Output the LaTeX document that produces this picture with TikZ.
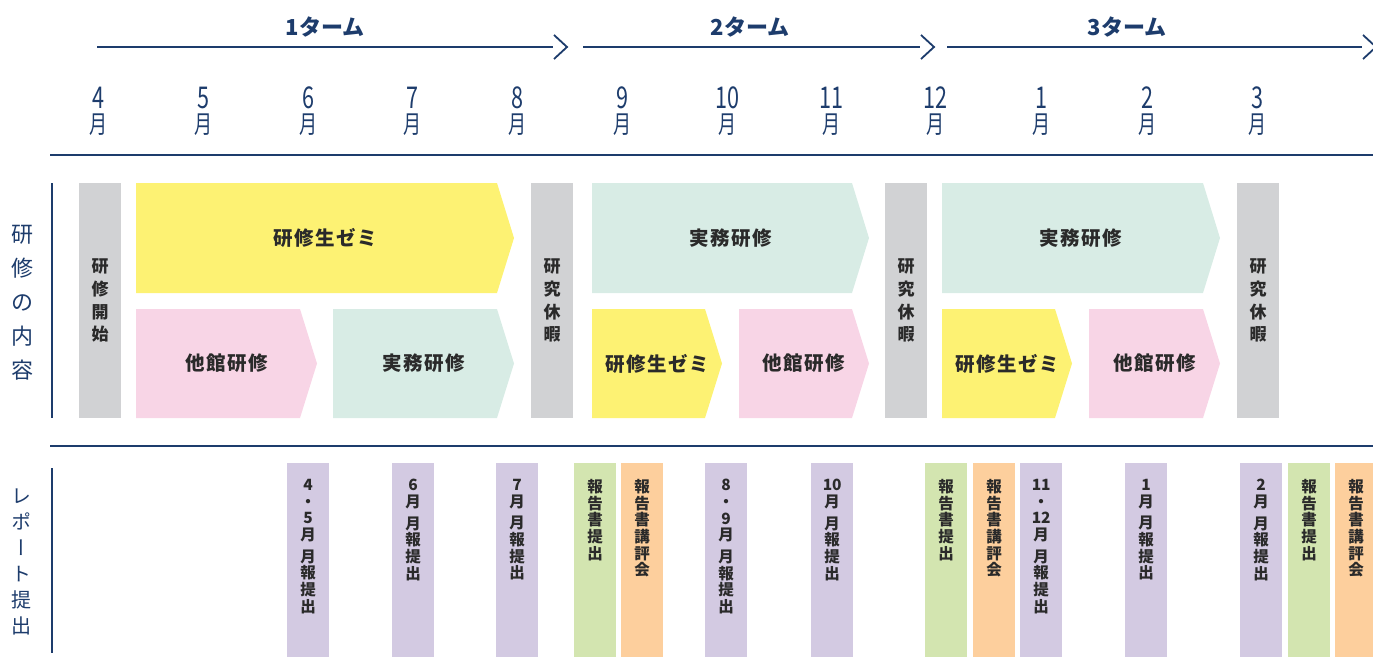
\documentclass[tikz,border=0pt]{standalone}
\usepackage{fontspec}
\setmainfont{Noto Sans CJK JP}
\newfontfamily\monthfont{Noto Sans CJK JP}[FakeStretch=0.72]
\newfontfamily\stagefont{Noto Sans CJK JP}[LetterSpace=8]
\newfontfamily\vertfont{Noto Sans CJK JP}[RawFeature=+vert]
\usetikzlibrary{positioning}
\definecolor{navy}{HTML}{1D3C6C}
\definecolor{ink}{HTML}{2A2A2A}
\definecolor{colRest}{HTML}{D1D2D4}
\definecolor{colZemi}{HTML}{FDF273}
\definecolor{colMint}{HTML}{D8ECE5}
\definecolor{colPink}{HTML}{F8D5E6}
\definecolor{colPurple}{HTML}{D3CAE2}
\definecolor{colGreen}{HTML}{D3E5B0}
\definecolor{colOrange}{HTML}{FDCF9D}
\newcommand{\num}[1]{{\fontsize{30}{24}\selectfont #1}}
\tikzstyle{rule} = [draw=navy, line width=2pt]
\tikzstyle{chevron} = [draw=navy, line width=1.8pt]
\tikzstyle{term} = [text=navy, font=\fontsize{22}{24}\selectfont\bfseries]
\tikzstyle{month} = [text=navy, align=center, inner sep=0pt, font=\monthfont\fontsize{25}{25}\selectfont]
\tikzstyle{side} = [text=navy, align=center, inner sep=0pt]
\tikzstyle{rest} = [fill=colRest, minimum width=42pt, minimum height=235pt, inner sep=0pt, anchor=north west, align=center, text=ink, font=\fontsize{17}{22.7}\selectfont\bfseries]
\tikzstyle{stagetext} = [text=ink, font=\stagefont\fontsize{19.5}{22}\selectfont\bfseries]
\tikzstyle{report} = [minimum width=42pt, minimum height=194pt, inner sep=0pt, anchor=north west]
\tikzstyle{rtext} = [text=ink, align=center, inner sep=0pt, font=\fontsize{15.5}{16.7}\selectfont\bfseries]
% name, colour, left, body right, top, bottom, text
\newcommand{\phasebox}[7]{%
  \fill [#2] (#3,#5) -- (#4,#5) -- ({#4+17},{(#5+#6)/2}) -- (#4,#6) -- (#3,#6) -- cycle;
  \node (#1) [stagetext] at ({(#3+#4+17)/2},{(#5+#6)/2}) {#7};}

\begin{document}
\begin{tikzpicture}[x=1pt, y=-1pt, node distance=16pt]
  \useasboundingbox (0,0) rectangle (1373,666);
  %Terms
  \node (term1) [term] at (325,27) {1ターム};
  \node (term2) [term] at (750,27) {2ターム};
  \node (term3) [term] at (1127,27) {3ターム};
  \coordinate (t1a) at (97,47);
  \coordinate (t1b) at (553,47);
  \coordinate (t1c) at (567,47);
  \coordinate (t2a) at (583,47);
  \coordinate (t2b) at (920,47);
  \coordinate (t2c) at (934,47);
  \coordinate (t3a) at (947,47);
  \coordinate (t3b) at (1362,47);
  \coordinate (t3c) at (1376,47);
  \draw [rule] (t1a) -- (t1b);
  \draw [chevron] (t1c) ++(-13,-12) -- (t1c) -- ++(-13,12);
  \draw [rule] (t2a) -- (t2b);
  \draw [chevron] (t2c) ++(-13,-12) -- (t2c) -- ++(-13,12);
  \draw [rule] (t3a) -- (t3b);
  \draw [chevron] (t3c) ++(-13,-12) -- (t3c) -- ++(-13,12);
  %Months
  \node (m4) [month] at (98,111) {\num{4}\\月};
  \node (m5) [month] at (203,111) {\num{5}\\月};
  \node (m6) [month] at (308,111) {\num{6}\\月};
  \node (m7) [month] at (412,111) {\num{7}\\月};
  \node (m8) [month] at (517,111) {\num{8}\\月};
  \node (m9) [month] at (622,111) {\num{9}\\月};
  \node (m10) [month] at (727,111) {\num{10}\\月};
  \node (m11) [month] at (831,111) {\num{11}\\月};
  \node (m12) [month] at (935,111) {\num{12}\\月};
  \node (m1) [month] at (1041,111) {\num{1}\\月};
  \node (m2) [month] at (1147,111) {\num{2}\\月};
  \node (m3) [month] at (1257,111) {\num{3}\\月};
  \coordinate (s1a) at (50,155);
  \coordinate (s1b) at (1373,155);
  \draw [rule] (s1a) -- (s1b);
  %Training
  \node (content) [side, font=\fontsize{22}{34}\selectfont] at (22,303) {研\\修\\の\\内\\容};
  \coordinate (v1a) at (52,183);
  \coordinate (v1b) at (52,418);
  \draw [rule] (v1a) -- (v1b);
  \node (rest1) [rest] at (79,183) {研\\修\\開\\始};
  \node (rest2) [rest] at (531,183) {研\\究\\休\\暇};
  \node (rest3) [rest] at (885,183) {研\\究\\休\\暇};
  \node (rest4) [rest] at (1237,183) {研\\究\\休\\暇};
  \phasebox{zemi1}{colZemi}{136}{497}{183}{293}{研修生ゼミ}
  \phasebox{takan1}{colPink}{136}{300}{309}{418}{他館研修}
  \phasebox{jitsumu1}{colMint}{333}{497}{309}{418}{実務研修}
  \phasebox{jitsumu2}{colMint}{592}{852}{183}{293}{実務研修}
  \phasebox{zemi2}{colZemi}{592}{705}{309}{418}{研修生ゼミ}
  \phasebox{takan2}{colPink}{739}{852}{309}{418}{他館研修}
  \phasebox{jitsumu3}{colMint}{942}{1203}{183}{293}{実務研修}
  \phasebox{zemi3}{colZemi}{942}{1055}{309}{418}{研修生ゼミ}
  \phasebox{takan3}{colPink}{1089}{1203}{309}{418}{他館研修}
  \coordinate (s2a) at (50,446);
  \coordinate (s2b) at (1373,446);
  \draw [rule] (s2a) -- (s2b);
  %Reports
  \node (report) [side, font=\vertfont\fontsize{20}{26}\selectfont] at (22,562) {レ\\ポ\\ー\\ト\\提\\出};
  \coordinate (v2a) at (52,468);
  \coordinate (v2b) at (52,653);
  \draw [rule] (v2a) -- (v2b);
  \node (r1) [report, fill=colPurple] at (287,463) {};
  \node (r2) [report, fill=colPurple] at (392,463) {};
  \node (r3) [report, fill=colPurple] at (496,463) {};
  \node (r4) [report, fill=colGreen] at (574,463) {};
  \node (r5) [report, fill=colOrange] at (621,463) {};
  \node (r6) [report, fill=colPurple] at (705,463) {};
  \node (r7) [report, fill=colPurple] at (811,463) {};
  \node (r8) [report, fill=colGreen] at (925,463) {};
  \node (r9) [report, fill=colOrange] at (973,463) {};
  \node (r10) [report, fill=colPurple] at (1020,463) {};
  \node (r11) [report, fill=colPurple] at (1125,463) {};
  \node (r12) [report, fill=colPurple] at (1240,463) {};
  \node (r13) [report, fill=colGreen] at (1288,463) {};
  \node (r14) [report, fill=colOrange] at (1335,463) {};
  \node [rtext, below=of r1.north] {4\\・\\5\\月\\[5pt]月\\報\\提\\出};
  \node [rtext, below=of r2.north] {6\\月\\[5pt]月\\報\\提\\出};
  \node [rtext, below=of r3.north] {7\\月\\[5pt]月\\報\\提\\出};
  \node [rtext, below=of r4.north] {報\\告\\書\\提\\出};
  \node [rtext, below=of r5.north] {報\\告\\書\\講\\評\\会};
  \node [rtext, below=of r6.north] {8\\・\\9\\月\\[5pt]月\\報\\提\\出};
  \node [rtext, below=of r7.north] {10\\月\\[5pt]月\\報\\提\\出};
  \node [rtext, below=of r8.north] {報\\告\\書\\提\\出};
  \node [rtext, below=of r9.north] {報\\告\\書\\講\\評\\会};
  \node [rtext, below=of r10.north] {11\\・\\12\\月\\[5pt]月\\報\\提\\出};
  \node [rtext, below=of r11.north] {1\\月\\[5pt]月\\報\\提\\出};
  \node [rtext, below=of r12.north] {2\\月\\[5pt]月\\報\\提\\出};
  \node [rtext, below=of r13.north] {報\\告\\書\\提\\出};
  \node [rtext, below=of r14.north] {報\\告\\書\\講\\評\\会};
\end{tikzpicture}
\end{document}
